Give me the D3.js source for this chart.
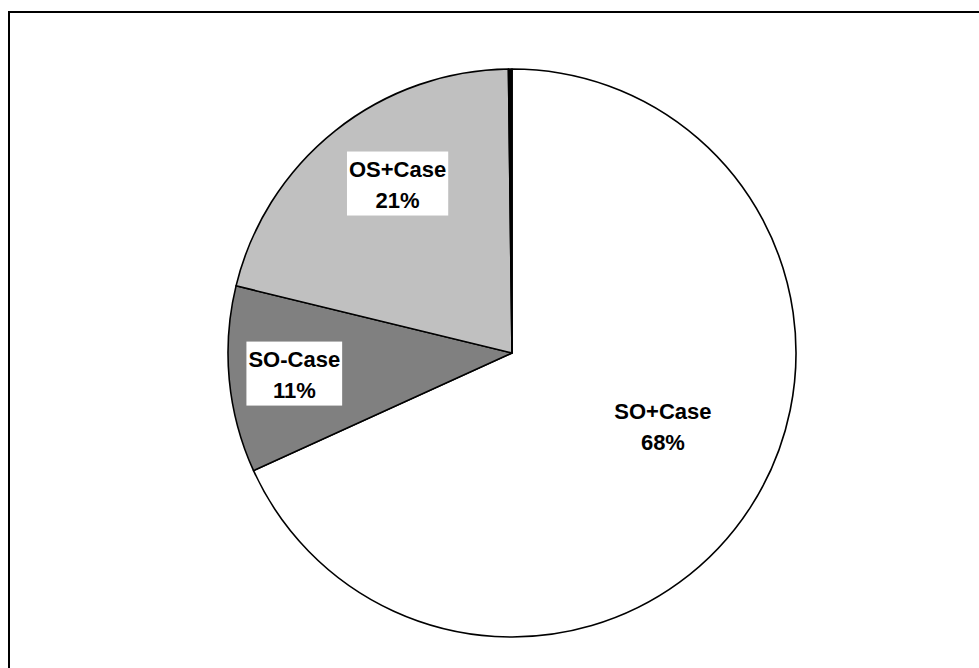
<!DOCTYPE html>
<html>
<head>
<meta charset="utf-8">
<script src="https://cdn.jsdelivr.net/npm/d3@7"></script>
<style>
  html, body { margin: 0; padding: 0; background: #fff; overflow: hidden; }
  .lbl { font-family: Arial, "Liberation Sans", sans-serif; font-weight: bold; font-size: 22px; }
</style>
</head>
<body>
<div id="chart"></div>
<script>
// Slices, clockwise from 12 o'clock
var categories = ["SO+Case", "SO-Case", "OS+Case", "Other"];
var values = [68.2, 10.6, 21.0, 0.2];
var fills = ["#ffffff", "#808080", "#c0c0c0", "#000000"];
var showLabel = [true, true, true, false];

// label placement (fraction of radius, angle nudge in degrees)
var labelR = [0.59, 0.77, 0.72, 0];
var labelNudge = [-7, 0, 4.5, 0];

var width = 979, height = 668;
var cx = 512, cy = 353, radius = 284;

var svg = d3.select("#chart")
    .append("svg")
    .attr("width", width)
    .attr("height", height);

// chart frame (right/bottom edges run off the page)
svg.append("rect")
    .attr("x", 9)
    .attr("y", 12)
    .attr("width", width + 20)
    .attr("height", height + 20)
    .attr("fill", "#fff")
    .attr("stroke", "#000")
    .attr("stroke-width", 2);

var pie = d3.pie().sort(null).value(d => d);
var arcs = pie(values);
var arc = d3.arc().innerRadius(0).outerRadius(radius);
var total = d3.sum(values);

var g = svg.append("g")
    .attr("transform", "translate(" + cx + "," + cy + ")");

g.selectAll("path")
    .data(arcs)
    .enter()
    .append("path")
        .attr("d", arc)
        .attr("fill", (d, i) => fills[i])
        .attr("stroke", "#000")
        .attr("stroke-width", 1.6)
        .attr("stroke-linejoin", "round");

// labels: name + rounded percent on a white box
var labels = g.selectAll("g.label")
    .data(arcs.filter((d, i) => showLabel[i]))
    .enter()
    .append("g")
    .attr("class", "label")
    .attr("transform", d => {
        var i = d.index;
        var a = (d.startAngle + d.endAngle) / 2 + labelNudge[i] * Math.PI / 180;
        var r = radius * labelR[i];
        return "translate(" + (r * Math.sin(a)) + "," + (-r * Math.cos(a)) + ")";
    });

labels.each(function(d) {
    var sel = d3.select(this);
    var box = sel.append("rect").attr("fill", "#fff");
    var t = sel.append("text")
        .attr("class", "lbl")
        .attr("text-anchor", "middle");
    t.append("tspan").attr("x", 0).attr("y", -7).text(categories[d.index]);
    t.append("tspan").attr("x", 0).attr("y", 24)
        .text(Math.round(d.data / total * 100) + "%");
    var bb = t.node().getBBox();
    box.attr("x", bb.x - 2)
        .attr("y", -32)
        .attr("width", bb.width + 4)
        .attr("height", 64);
});
</script>
</body>
</html>
